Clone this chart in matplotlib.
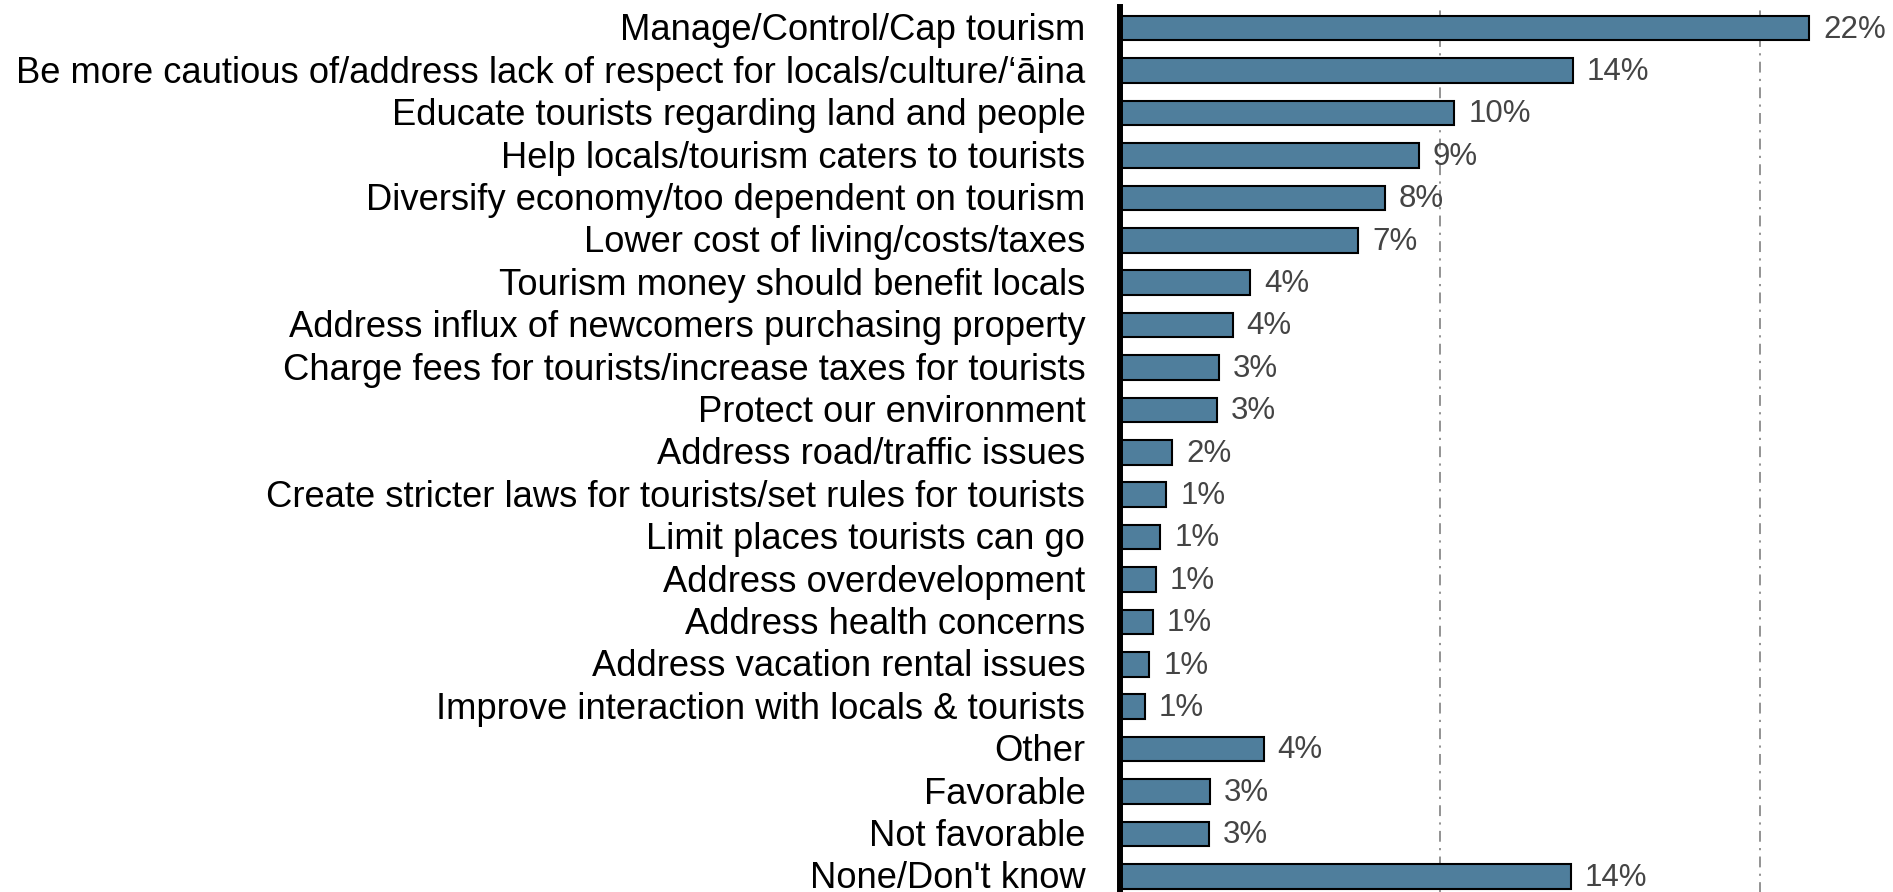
import matplotlib
matplotlib.use("Agg")
from matplotlib import pyplot as plt
from matplotlib.transforms import ScaledTranslation

plt.rcParams['font.family'] = ['Liberation Sans', 'DejaVu Sans']

# Данные (доли ответов, %)
categories = [
    "Manage/Control/Cap tourism",
    "Be more cautious of/address lack of respect for locals/culture/\u2018\u0101ina",
    "Educate tourists regarding land and people",
    "Help locals/tourism caters to tourists",
    "Diversify economy/too dependent on tourism",
    "Lower cost of living/costs/taxes",
    "Tourism money should benefit locals",
    "Address influx of newcomers purchasing property",
    "Charge fees for tourists/increase taxes for tourists",
    "Protect our environment",
    "Address road/traffic issues",
    "Create stricter laws for tourists/set rules for tourists",
    "Limit places tourists can go",
    "Address overdevelopment",
    "Address health concerns",
    "Address vacation rental issues",
    "Improve interaction with locals & tourists",
    "Other",
    "Favorable",
    "Not favorable",
    "None/Don't know",
]
values = [21.54, 14.16, 10.45, 9.33, 8.27, 7.44, 4.06, 3.52, 3.10, 3.02,
          1.63, 1.45, 1.26, 1.11, 1.03, 0.92, 0.78, 4.49, 2.82, 2.78, 14.08]
labels = ["22%", "14%", "10%", "9%", "8%", "7%", "4%", "4%", "3%", "3%",
          "2%", "1%", "1%", "1%", "1%", "1%", "1%", "4%", "3%", "3%", "14%"]

W, H = 1893, 892
fig = plt.figure(figsize=(W / 100, H / 100), dpi=100)

# оси: левая граница на 1120 px, верх на 7 px, низ немного за краем
ax_left = 1120 / W
ax_top = 1 - 7 / H
ax_bottom = (H - 897.5) / H
ax = fig.add_axes([ax_left, ax_bottom, 1 - ax_left, ax_top - ax_bottom])

pos = list(range(len(categories)))
ax.barh(pos, values, height=0.58, color='#4f7e9c', edgecolor='black',
        linewidth=1.5, zorder=3)

for p, v, lab in zip(pos, values, labels):
    ax.annotate(lab, (v, p), xytext=(10, -1), textcoords='offset points',
                va='center', ha='left', fontsize=22.5, color='#444444')

# сетка штрих-пунктиром
for gx in (10, 20):
    ax.axvline(gx, color='#8a8a8a', linewidth=1.3,
               linestyle=(0, (6, 3.5, 1.2, 3.5)), zorder=1)

ax.set_xlim(0, (W - 1120) / 32.0)
ax.set_ylim(20.5, -0.5)
ax.set_yticks(pos)
ax.set_yticklabels(categories, fontsize=26.2, color='black')
ax.tick_params(axis='y', length=0, pad=25)
ax.set_xticks([])

shift = ScaledTranslation(0, 1.0 / 72, fig.dpi_scale_trans)
for t in ax.get_yticklabels():
    t.set_transform(t.get_transform() + shift)

for s in ('top', 'right', 'bottom'):
    ax.spines[s].set_visible(False)
ax.spines['left'].set_linewidth(4.3)
ax.spines['left'].set_color('black')
ax.spines['left'].set_zorder(4)

fig.savefig('out.png', dpi=100)
